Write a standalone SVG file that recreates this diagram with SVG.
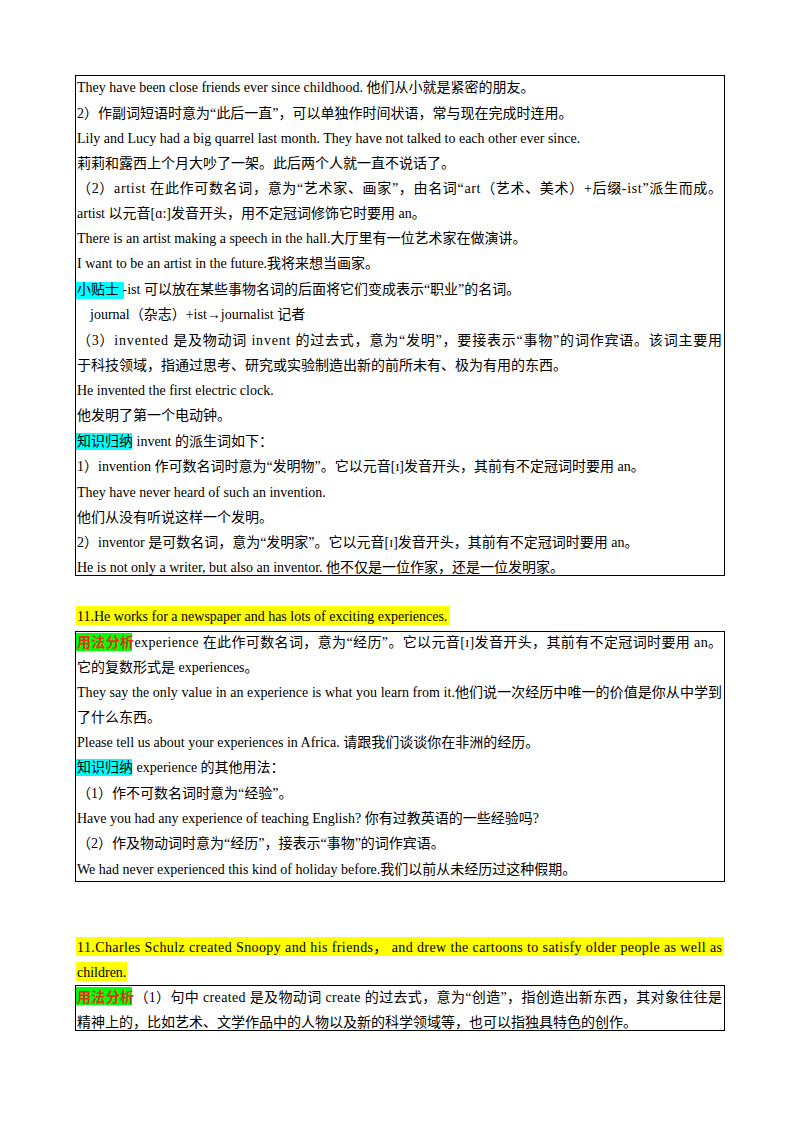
<svg xmlns="http://www.w3.org/2000/svg" width="800" height="1132" viewBox="0 0 800 1132">
<style>
text{font-family:"Liberation Serif","Noto Sans CJK SC",serif;font-size:14px;fill:#000}
.box{fill:none;stroke:#000;stroke-width:1}
.y{fill:#ffff00}.c{fill:#00ffff}.g{fill:#00ff00}
.r{fill:#e8301c;font-weight:bold}
</style>
<rect width="800" height="1132" fill="#fff"/>
<g id="box1">
<rect class="box" x="75.5" y="75.5" width="649" height="500"/>
<rect class="c" x="76" y="282" width="48" height="17"/>
<rect class="c" x="76" y="433" width="56" height="17"/>
<text x="77" y="92">They have been close friends ever since childhood. 他们从小就是紧密的朋友。</text>
<text x="77" y="118">2）作副词短语时意为“此后一直”，可以单独作时间状语，常与现在完成时连用。</text>
<text x="77" y="143">Lily and Lucy had a big quarrel last month. They have not talked to each other ever since.</text>
<text x="77" y="168">莉莉和露西上个月大吵了一架。此后两个人就一直不说话了。</text>
<text x="77" y="193" textLength="645" lengthAdjust="spacing">（2）artist 在此作可数名词，意为“艺术家、画家”，由名词“art（艺术、美术）+后缀-ist”派生而成。</text>
<text x="77" y="218">artist 以元音[ɑ:]发音开头，用不定冠词修饰它时要用 an。</text>
<text x="77" y="243">There is an artist making a speech in the hall.大厅里有一位艺术家在做演讲。</text>
<text x="77" y="268">I want to be an artist in the future.我将来想当画家。</text>
<text x="77" y="294">小贴士 -ist 可以放在某些事物名词的后面将它们变成表示“职业”的名词。</text>
<text x="90" y="319">journal（杂志）+ist→journalist 记者</text>
<text x="77" y="345" textLength="645" lengthAdjust="spacing">（3）invented 是及物动词 invent 的过去式，意为“发明”，要接表示“事物”的词作宾语。该词主要用</text>
<text x="77" y="370">于科技领域，指通过思考、研究或实验制造出新的前所未有、极为有用的东西。</text>
<text x="77" y="395">He invented the first electric clock.</text>
<text x="77" y="420">他发明了第一个电动钟。</text>
<text x="77" y="446">知识归纳  invent 的派生词如下：</text>
<text x="77" y="471">1）invention 作可数名词时意为“发明物”。它以元音[ɪ]发音开头，其前有不定冠词时要用 an。</text>
<text x="77" y="497">They have never heard of such an invention.</text>
<text x="77" y="522">他们从没有听说这样一个发明。</text>
<text x="77" y="547">2）inventor 是可数名词，意为“发明家”。它以元音[ɪ]发音开头，其前有不定冠词时要用 an。</text>
<text x="77" y="572">He is not only a writer, but also an inventor. 他不仅是一位作家，还是一位发明家。</text>
</g>
<g id="title2">
<rect class="y" x="76" y="606" width="374" height="19"/>
<text x="77" y="621">11.He works for a newspaper and has lots of exciting experiences.</text>
</g>
<g id="box2">
<rect class="box" x="75.5" y="631.5" width="649" height="250"/>
<rect class="g" x="76" y="633" width="56" height="18"/>
<rect class="c" x="76" y="759" width="56" height="17"/>
<text x="77" y="647" textLength="645" lengthAdjust="spacing"><tspan class="r">用法分析</tspan>experience 在此作可数名词，意为“经历”。它以元音[ɪ]发音开头，其前有不定冠词时要用 an。</text>
<text x="77" y="672">它的复数形式是 experiences。</text>
<text x="77" y="697" textLength="645" lengthAdjust="spacing">They say the only value in an experience is what you learn from it.他们说一次经历中唯一的价值是你从中学到</text>
<text x="77" y="722">了什么东西。</text>
<text x="77" y="747">Please tell us about your experiences in Africa. 请跟我们谈谈你在非洲的经历。</text>
<text x="77" y="772">知识归纳  experience 的其他用法：</text>
<text x="77" y="798">（1）作不可数名词时意为“经验”。</text>
<text x="77" y="823">Have you had any experience of teaching English? 你有过教英语的一些经验吗?</text>
<text x="77" y="848">（2）作及物动词时意为“经历”，接表示“事物”的词作宾语。</text>
<text x="77" y="874">We had never experienced this kind of holiday before.我们以前从未经历过这种假期。</text>
</g>
<g id="title3">
<rect class="y" x="76" y="937" width="648" height="19"/>
<rect class="y" x="76" y="962" width="51" height="19"/>
<text x="77" y="952" textLength="645" lengthAdjust="spacing">11.Charles Schulz created Snoopy and his friends， and drew the cartoons to satisfy older people as well as</text>
<text x="77" y="977">children.</text>
</g>
<g id="box3">
<rect class="box" x="75.5" y="985.5" width="649" height="45"/>
<rect class="g" x="76" y="987" width="56" height="18"/>
<text x="77" y="1002" textLength="645" lengthAdjust="spacing"><tspan class="r">用法分析</tspan>（1）句中 created 是及物动词 create 的过去式，意为“创造”，指创造出新东西，其对象往往是</text>
<text x="77" y="1027">精神上的，比如艺术、文学作品中的人物以及新的科学领域等，也可以指独具特色的创作。</text>
</g>
<g id="connectors"/>
</svg>
